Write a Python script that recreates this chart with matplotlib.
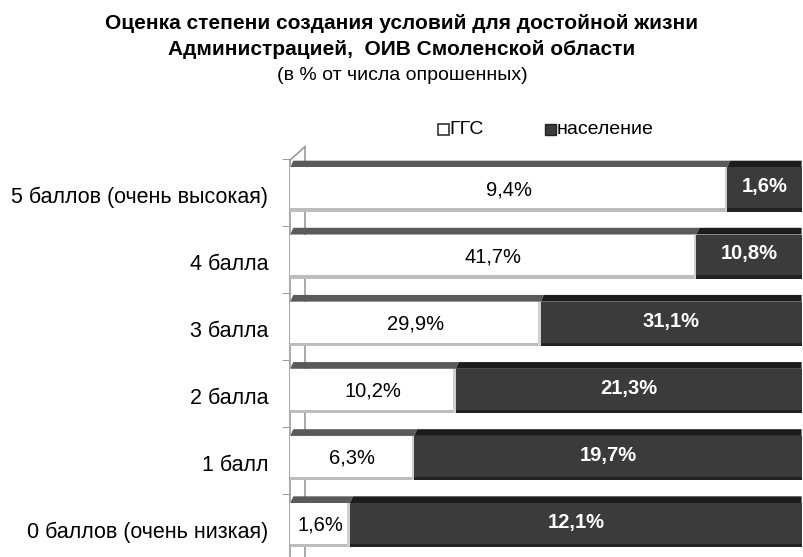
import matplotlib
matplotlib.use("Agg")
import matplotlib.pyplot as plt
from matplotlib.patches import Polygon, Rectangle
from matplotlib.transforms import ScaledTranslation
import numpy as np

# data (bottom to top)
categories = ["0 баллов (очень низкая)", "1 балл", "2 балла", "3 балла", "4 балла", "5 баллов (очень высокая)"]
ggs = [1.6, 6.3, 10.2, 29.9, 41.7, 9.4]
population = [12.1, 19.7, 21.3, 31.1, 10.8, 1.6]
series_names = ["ГГС", "население"]

plt.rcParams["font.family"] = ["Liberation Sans", "DejaVu Sans"]

fig = plt.figure(figsize=(8.04, 5.57), dpi=100)
ax = fig.add_axes([0.361, -0.008, 0.636, 0.734])

ggs_arr = np.array(ggs)
pop_arr = np.array(population)
total = ggs_arr + pop_arr
ggs_share = ggs_arr / total * 100
pop_share = pop_arr / total * 100

y = np.arange(len(categories))
h = 0.66
dy = 0.1
dx = 0.6

white_face = "#ffffff"
white_top = "#5a5a5a"
dark_face = "#3b3b3b"
dark_top = "#1c1c1c"

# back wall line of the 3D axis
wall = 2.9
spine_top = 5.44
ax.plot([wall, wall], [-0.7, spine_top + 0.2], color="#9a9a9a", lw=1.2, zorder=1, clip_on=False)
ax.plot([0, wall], [spine_top, spine_top + 0.2], color="#9a9a9a", lw=1.2, zorder=1, clip_on=False)

for yi, gs, ps in zip(y, ggs_share, pop_share):
    top = yi + h / 2
    # top faces
    ax.add_patch(Polygon([(0, top), (dx, top + dy), (gs + dx, top + dy), (gs, top)],
                         closed=True, facecolor=white_top, edgecolor="none", zorder=2))
    ax.add_patch(Polygon([(gs, top), (gs + dx, top + dy), (100, top + dy), (100, top)],
                         closed=True, facecolor=dark_top, edgecolor="none", zorder=2))

ax.barh(y, ggs_share, height=h, color=white_face, edgecolor="none", zorder=3)
ax.barh(y, pop_share, left=ggs_share, height=h, color=dark_face, edgecolor="none", zorder=3)

# shading along bottom edges
for yi, gs in zip(y, ggs_share):
    bot = yi - h / 2
    ax.add_patch(Rectangle((0, bot), gs, 0.05, facecolor="#bdbdbd", edgecolor="none", zorder=4))
    ax.add_patch(Rectangle((gs, bot), 100 - gs, 0.05, facecolor="#222222", edgecolor="none", zorder=4))
    ax.add_patch(Rectangle((gs - 0.5, bot), 0.5, h, facecolor="#cfcfcf", edgecolor="none", zorder=4))

for yi, gs, ps, gv, pv in zip(y, ggs_share, pop_share, ggs, population):
    ax.text(gs / 2, yi, f"{gv:.1f}%".replace(".", ","), ha="center", va="center",
            fontsize=14.5, color="black", zorder=5)
    ax.text(gs + ps / 2, yi + 0.04, f"{pv:.1f}%".replace(".", ","), ha="center", va="center",
            fontsize=14.5, color="white", fontweight="bold", zorder=5)

ax.set_xlim(0, 100)
ax.set_ylim(-0.5, 5.55)
ax.set_yticks(y)
ax.set_yticklabels(categories, fontsize=15.5)
ax.set_yticks(np.arange(-1, 6) + 0.46, minor=True)
ax.tick_params(axis="y", which="major", length=0, pad=16)
ax.tick_params(axis="y", which="minor", length=6, color="#8a8a8a")
offset = ScaledTranslation(0, -5 / 100, fig.dpi_scale_trans)
for lab in ax.get_yticklabels():
    lab.set_transform(lab.get_transform() + offset)
ax.set_xticks([])
for s in ["top", "right", "bottom"]:
    ax.spines[s].set_visible(False)
ax.spines["left"].set_color("#9a9a9a")
ax.spines["left"].set_linewidth(1.2)
ax.spines["left"].set_bounds(-0.7, spine_top)

# title
title_font = ["Liberation Sans Narrow", "Liberation Sans", "DejaVu Sans"]
fig.text(0.5, 0.958, "Оценка степени создания условий для достойной жизни",
         ha="center", va="center", fontsize=15, fontweight="bold", family=title_font)
fig.text(0.5, 0.912, "Администрацией,  ОИВ Смоленской области",
         ha="center", va="center", fontsize=15, fontweight="bold", family=title_font)
fig.text(0.5, 0.865, "(в % от числа опрошенных)",
         ha="center", va="center", fontsize=14, family=title_font)

# legend
fig.patches.append(Rectangle((0.545, 0.758), 0.013, 0.019, transform=fig.transFigure,
                             facecolor="white", edgecolor="#333333", lw=1.2))
fig.text(0.559, 0.767, series_names[0], ha="left", va="center", fontsize=14)
fig.patches.append(Rectangle((0.678, 0.758), 0.013, 0.019, transform=fig.transFigure,
                             facecolor=dark_face, edgecolor="#222222", lw=1.0))
fig.text(0.692, 0.767, series_names[1], ha="left", va="center", fontsize=14)

fig.savefig("out.png", dpi=100)
